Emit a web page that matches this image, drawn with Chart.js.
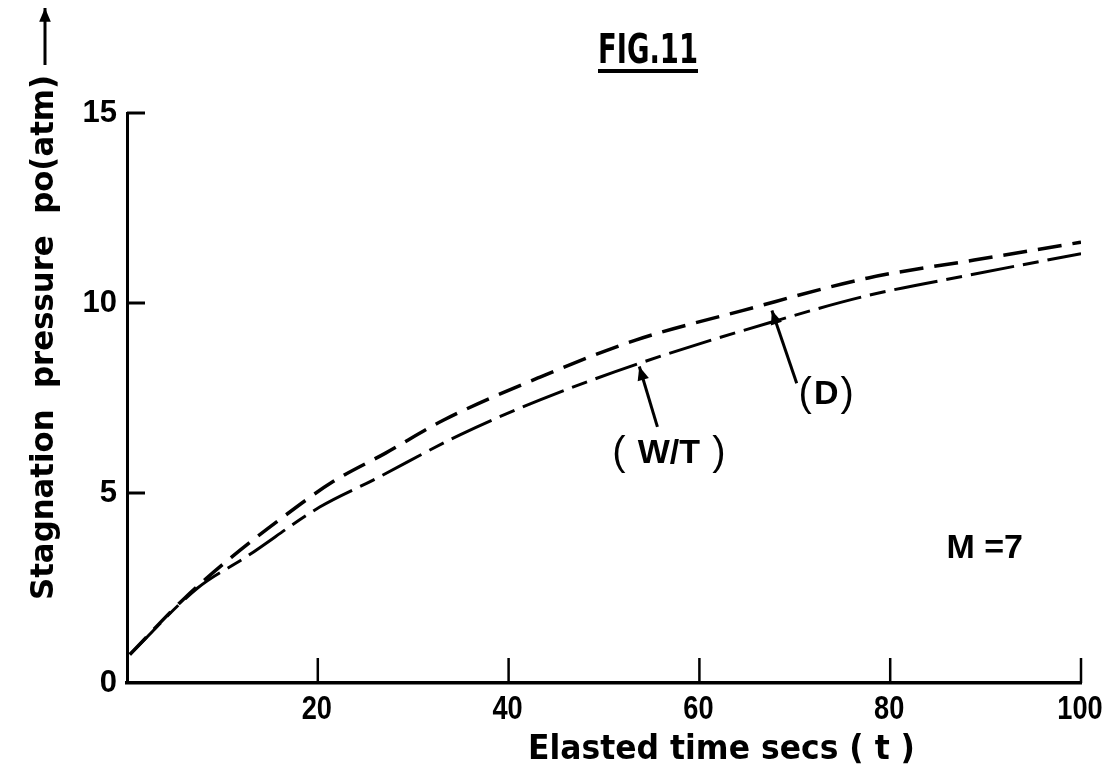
<!DOCTYPE html>
<html>
<head>
<meta charset="utf-8">
<script src="https://cdn.jsdelivr.net/npm/chart.js@4"></script>
<style>
html, body { margin: 0; padding: 0; background: #fff; }
#wrap { width: 1105px; height: 773px; position: relative; }
</style>
</head>
<body>
<div id="wrap"><canvas id="fig"></canvas></div>
<script>
// curve (D) - dashed
const dTime = [0.3, 5.9, 10.9, 16, 21.6, 27.1, 33.2, 43.3, 53.4, 64.5, 77.7, 88.8, 100];
const dPressure = [0.75, 2.2, 3.3, 4.3, 5.3, 6.05, 6.92, 8.05, 9.03, 9.8, 10.66, 11.13, 11.6];
// curve (W/T) - long/short dashes
const wtTime = [0.3, 7.4, 12.5, 20.2, 25.8, 34.9, 43.3, 53.8, 67.6, 77.7, 88.4, 100];
const wtPressure = [0.75, 2.5, 3.32, 4.63, 5.34, 6.53, 7.45, 8.42, 9.5, 10.2, 10.74, 11.3];
// tick labels
const xTicks = [20, 40, 60, 80, 100];
const yTicks = [0, 5, 10, 15];

const SANS = "'Liberation Sans', Arial, sans-serif";
const ROUND = "'DejaVu Sans', sans-serif";

function toPoints(xs, ys) {
    return xs.map((v, i) => ({ x: v, y: ys[i] }));
}

function drawArrow(ctx, x1, y1, x2, y2) {
    ctx.beginPath();
    ctx.moveTo(x1, y1);
    ctx.lineTo(x2, y2);
    ctx.stroke();
    const a = Math.atan2(y2 - y1, x2 - x1);
    ctx.beginPath();
    ctx.moveTo(x2, y2);
    ctx.lineTo(x2 - 15 * Math.cos(a - 0.4), y2 - 15 * Math.sin(a - 0.4));
    ctx.lineTo(x2 - 15 * Math.cos(a + 0.4), y2 - 15 * Math.sin(a + 0.4));
    ctx.closePath();
    ctx.fill();
}

// squeeze a text horizontally so it fills a given width
function fitText(ctx, text, left, baseY, width) {
    const w = ctx.measureText(text).width;
    ctx.save();
    ctx.translate(left, baseY);
    ctx.scale(width / w, 1);
    ctx.textAlign = 'left';
    ctx.fillText(text, 0, 0);
    ctx.restore();
}

// inward ticks, narrow x labels, title, axis titles and curve labels
const decorations = {
    id: 'decorations',
    afterDraw(chart) {
        const { ctx, chartArea } = chart;
        const x = chart.scales.x, y = chart.scales.y;
        ctx.save();
        ctx.fillStyle = '#000';
        ctx.strokeStyle = '#000';
        ctx.lineCap = 'butt';

        ctx.lineWidth = 2.5;
        ctx.font = 'bold 34px ' + SANS;
        ctx.textBaseline = 'middle';
        xTicks.forEach(v => {
            const px = x.getPixelForValue(v);
            ctx.beginPath();
            ctx.moveTo(px, chartArea.bottom);
            ctx.lineTo(px, chartArea.bottom - 25);
            ctx.stroke();
            const label = String(v);
            const w = ctx.measureText(label).width * 0.8;
            fitText(ctx, label, px - w / 2 - 1, 710, w);
        });
        ctx.lineWidth = 3;
        yTicks.filter(v => v > 0).forEach(v => {
            const py = y.getPixelForValue(v);
            ctx.beginPath();
            ctx.moveTo(chartArea.left, py);
            ctx.lineTo(chartArea.left + 18, py);
            ctx.stroke();
        });

        // FIG.11 with underline
        ctx.font = 'bold 40px ' + ROUND;
        ctx.textBaseline = 'alphabetic';
        fitText(ctx, 'FIG.11', 598, 63, 100);
        ctx.fillRect(598, 69, 100, 4);

        // x title
        ctx.font = 'bold 34px ' + ROUND;
        ctx.textBaseline = 'middle';
        fitText(ctx, 'Elasted time secs ( t )', 528, 750, 387);

        // y title, rotated
        ctx.save();
        ctx.translate(45, 600);
        ctx.rotate(-Math.PI / 2);
        ctx.font = 'bold 32px ' + ROUND;
        ctx.textBaseline = 'middle';
        fitText(ctx, 'Stagnation  pressure  po(atm)', 0, 0, 525);
        ctx.lineWidth = 3;
        drawArrow(ctx, 535, 0, 592, 0);
        ctx.restore();

        // curve labels with pointer arrows (placed in data units)
        ctx.lineWidth = 3;
        drawArrow(ctx, x.getPixelForValue(55.6), y.getPixelForValue(6.74),
            x.getPixelForValue(53.7), y.getPixelForValue(8.33));
        drawArrow(ctx, x.getPixelForValue(70.2), y.getPixelForValue(7.89),
            x.getPixelForValue(67.6), y.getPixelForValue(9.8));

        ctx.textBaseline = 'middle';
        ctx.textAlign = 'center';
        ctx.font = '40px ' + SANS;
        const wx = x.getPixelForValue(56.8), wy = y.getPixelForValue(6.03);
        ctx.fillText('(', wx - 50, wy);
        ctx.fillText(')', wx + 50, wy);
        const dx = x.getPixelForValue(73.3), dy = y.getPixelForValue(7.58);
        ctx.fillText('(', dx - 21, dy);
        ctx.fillText(')', dx + 21, dy);
        ctx.font = 'bold 34px ' + SANS;
        ctx.fillText('W/T', wx, wy);
        ctx.fillText('D', dx, dy);
        ctx.fillText('M =7', x.getPixelForValue(89.9), y.getPixelForValue(3.53));
        ctx.restore();
    }
};

const chart = new Chart(document.getElementById('fig'), {
    type: 'line',
    data: {
        datasets: [
            {
                label: '(D)',
                data: toPoints(dTime, dPressure),
                borderColor: '#000',
                borderWidth: 3.5,
                borderDash: [24, 11],
                pointRadius: 0,
                cubicInterpolationMode: 'monotone',
                fill: false
            },
            {
                label: '(W/T)',
                data: toPoints(wtTime, wtPressure),
                borderColor: '#000',
                borderWidth: 3,
                borderDash: [44, 9, 16, 9],
                pointRadius: 0,
                cubicInterpolationMode: 'monotone',
                fill: false
            }
        ]
    },
    options: {
        responsive: true,
        maintainAspectRatio: false,
        animation: false,
        layout: { padding: { top: 113, right: 24, left: 0, bottom: 0 } },
        plugins: {
            legend: { display: false },
            tooltip: { enabled: false }
        },
        scales: {
            x: {
                type: 'linear',
                min: 0,
                max: 100,
                afterBuildTicks: s => { s.ticks = xTicks.map(v => ({ value: v })); },
                afterFit: s => { s.height = 90; s.paddingLeft = 0; s.paddingRight = 0; },
                grid: { display: false, drawTicks: false },
                border: { display: true, color: '#000', width: 3.5 },
                ticks: { display: false }
            },
            y: {
                type: 'linear',
                min: 0,
                max: 15,
                afterBuildTicks: s => { s.ticks = yTicks.map(v => ({ value: v })); },
                afterFit: s => { s.width = 127; s.paddingTop = 0; s.paddingBottom = 0; },
                grid: { display: false, drawTicks: false },
                border: { display: true, color: '#000', width: 3 },
                ticks: {
                    color: '#000',
                    padding: 10,
                    font: { family: SANS, size: 31, weight: 'bold' }
                }
            }
        }
    },
    plugins: [decorations]
});
</script>
</body>
</html>
